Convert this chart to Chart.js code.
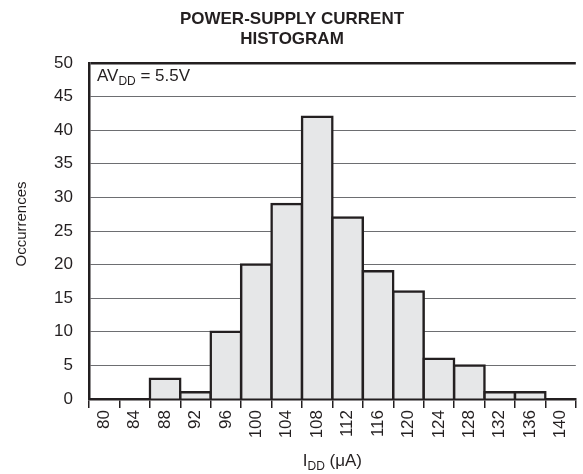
<!DOCTYPE html>
<html>
<head>
<meta charset="utf-8">
<script src="https://cdn.jsdelivr.net/npm/chart.js@4/dist/chart.umd.min.js"></script>
<style>
  html, body { margin: 0; padding: 0; background: #fff; }
  #wrap { width: 583px; height: 474px; position: relative; }
</style>
</head>
<body>
<div id="wrap"><canvas id="hist"></canvas></div>
<script>
// bins (µA) and counts
const bins = ['80','84','88','92','96','100','104','108','112','116','120','124','128','132','136','140'];
const counts = [0, 0, 3, 1, 10, 20, 29, 42, 27, 19, 16, 6, 5, 1, 1, 0];
const yTicks = [0, 5, 10, 15, 20, 25, 30, 35, 40, 45, 50];

const INK = '#231f20';
const FONT = '"Liberation Sans", Arial, Helvetica, sans-serif';

// titles, annotation and subscripts are drawn here
const textPlugin = {
  id: 'texts',
  afterDraw(chart) {
    const { ctx, chartArea: a } = chart;
    ctx.save();
    ctx.fillStyle = INK;

    // heading
    ctx.font = 'bold 17px ' + FONT;
    ctx.textAlign = 'center';
    ctx.textBaseline = 'alphabetic';
    ctx.fillText('POWER-SUPPLY CURRENT', 292, 24);
    ctx.fillText('HISTOGRAM', 292, 44);

    // AVDD annotation
    ctx.textAlign = 'left';
    ctx.font = '17px ' + FONT;
    let x = a.left + 8, y = a.top + 18;
    ctx.fillText('AV', x, y); x += ctx.measureText('AV').width;
    ctx.font = '12px ' + FONT;
    ctx.fillText('DD', x, y + 4); x += ctx.measureText('DD').width;
    ctx.font = '17px ' + FONT;
    ctx.fillText(' = 5.5V', x, y);

    // x title: IDD (µA)
    const parts = [['I', 17, 0], ['DD', 12, 4], [' (\u03bcA)', 17, 0]];
    let w = 0;
    parts.forEach(p => { ctx.font = p[1] + 'px ' + FONT; w += ctx.measureText(p[0]).width; });
    x = (a.left + a.right) / 2 - w / 2; y = 466;
    parts.forEach(p => {
      ctx.font = p[1] + 'px ' + FONT;
      ctx.fillText(p[0], x, y + p[2]);
      x += ctx.measureText(p[0]).width;
    });

    // y title
    ctx.font = '15px ' + FONT;
    ctx.translate(26, 224);
    ctx.rotate(-Math.PI / 2);
    ctx.textAlign = 'center';
    ctx.fillText('Occurrences', 0, 0);
    ctx.restore();
  }
};

new Chart(document.getElementById('hist'), {
  type: 'bar',
  data: {
    labels: bins,
    datasets: [{
      data: counts,
      backgroundColor: '#e6e7e8',
      borderColor: INK,
      borderWidth: 2.5,
      inflateAmount: 1.25,
      borderSkipped: 'start',
      barPercentage: 1,
      categoryPercentage: 1
    }]
  },
  options: {
    responsive: true,
    maintainAspectRatio: false,
    animation: false,
    layout: { padding: { top: 63, right: 0, left: 0, bottom: 0 } },
    plugins: { legend: { display: false }, tooltip: { enabled: false } },
    scales: {
      x: {
        offset: true,
        grid: { offset: true, drawOnChartArea: false, drawTicks: true, tickLength: 9, color: INK, lineWidth: 1.5 },
        border: { color: INK, width: 2.5 },
        ticks: { color: INK, font: { family: FONT, size: 17 }, minRotation: 90, maxRotation: 90, padding: 2, autoSkip: false },
        afterFit(s) { s.height = 75; }
      },
      y: {
        min: 0, max: 50,
        afterBuildTicks(s) { s.ticks = yTicks.map(v => ({ value: v })); },
        grid: {
          drawTicks: false,
          color: ctx => ctx.tick && ctx.tick.value === 50 ? INK : '#6d6e71',
          lineWidth: ctx => ctx.tick && ctx.tick.value === 50 ? 2.5 : 1
        },
        border: { color: INK, width: 2.5 },
        ticks: { color: INK, font: { family: FONT, size: 17 }, padding: 16 },
        afterFit(s) { s.width = 89; }
      }
    }
  },
  plugins: [textPlugin]
});
</script>
</body>
</html>
